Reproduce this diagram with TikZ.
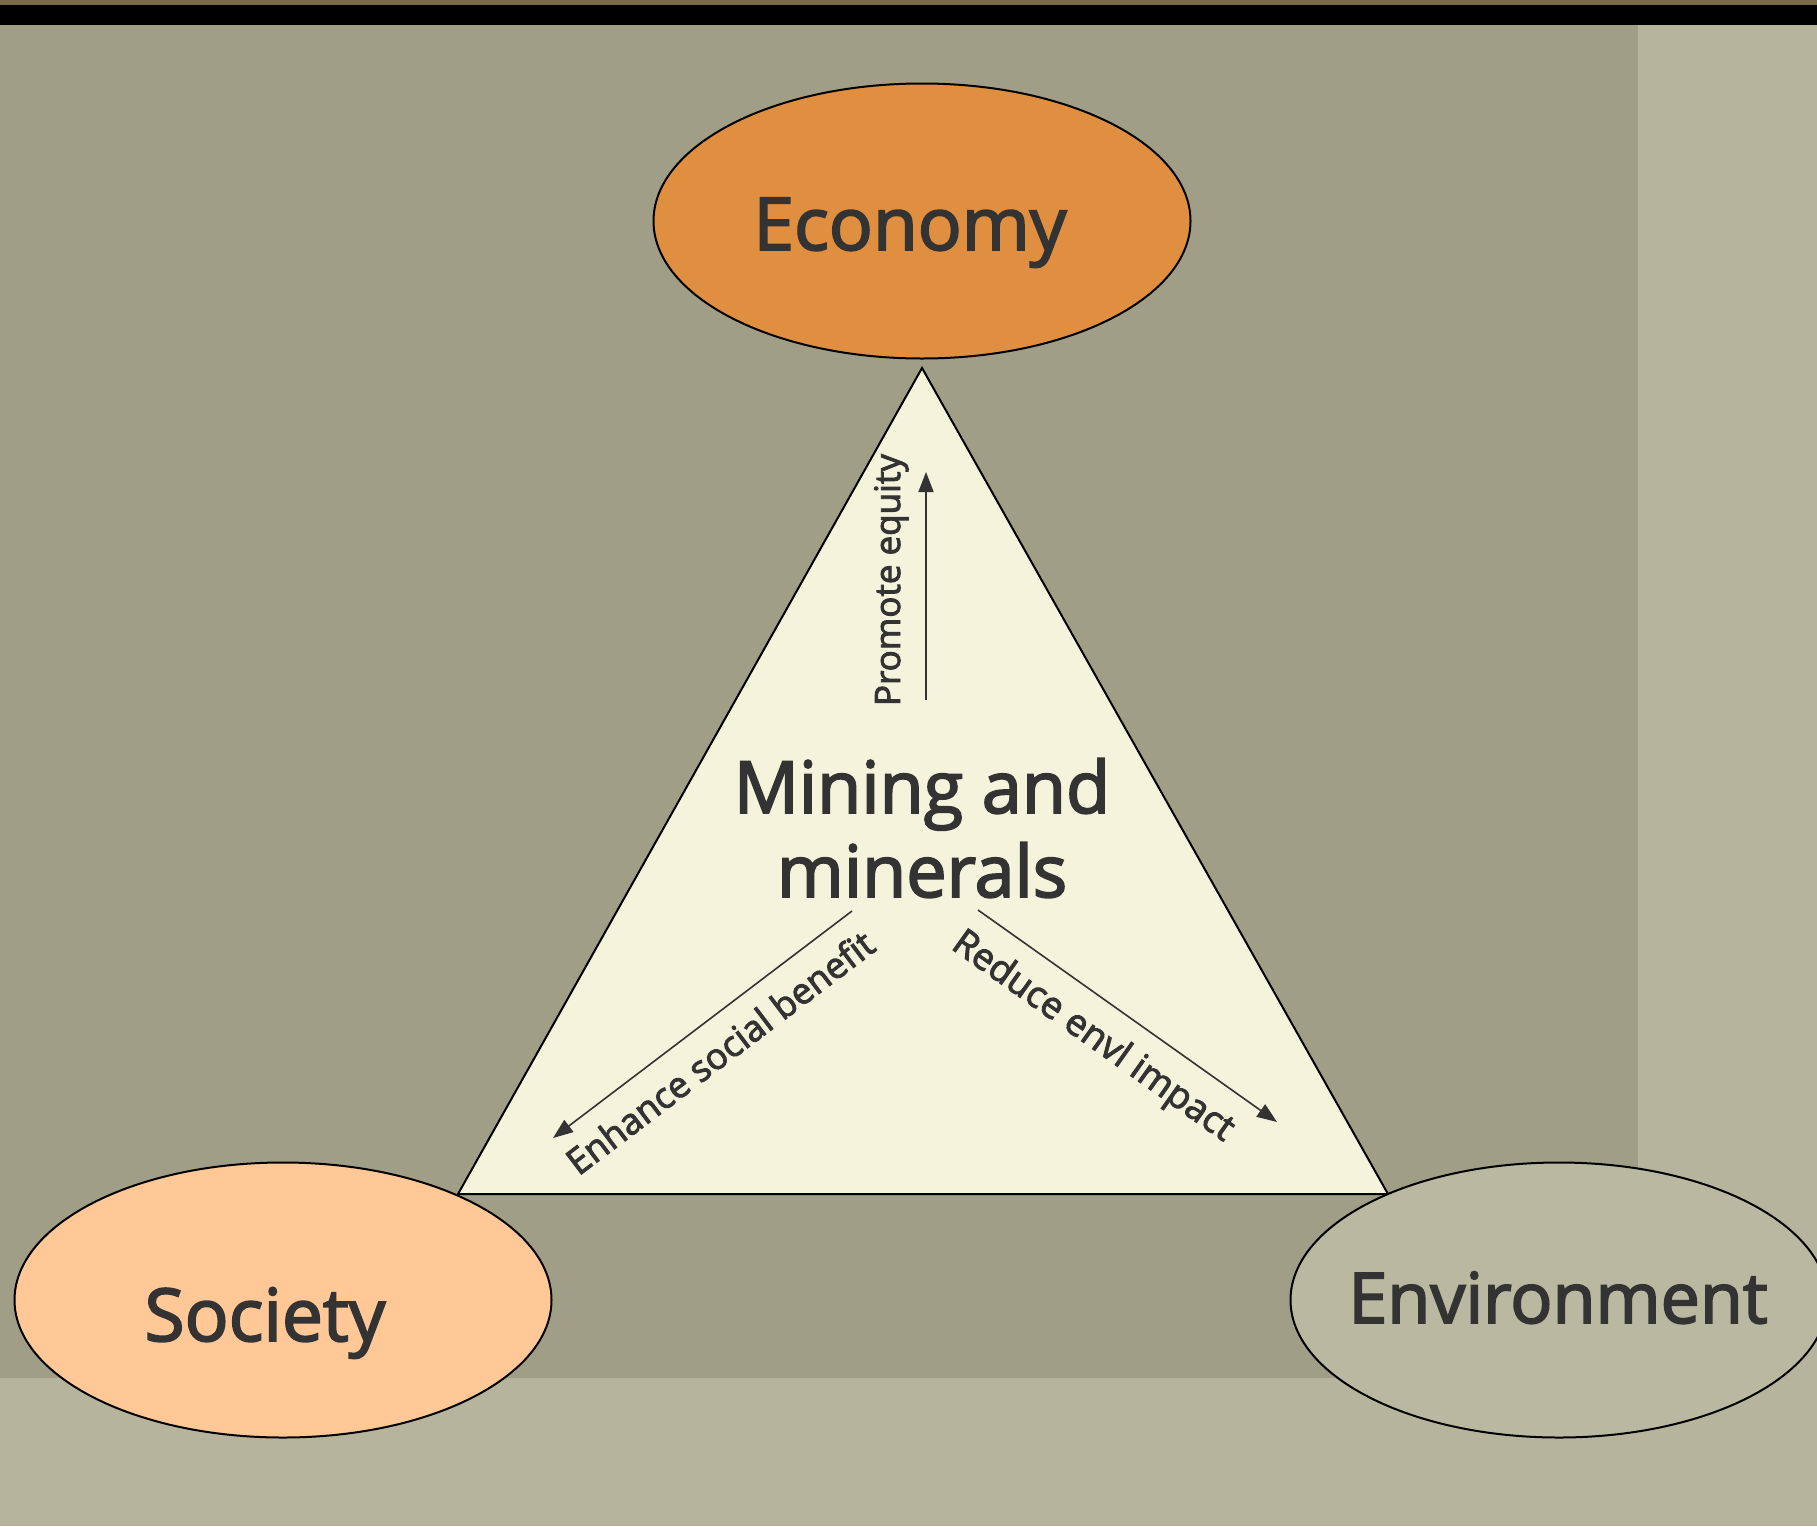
\documentclass[tikz,border=0pt]{standalone}
\usepackage{fontspec}
\setmainfont{Open Sans}
\newfontfamily\semifont{Open Sans}[FakeBold=2.6]
\usetikzlibrary{arrows.meta,shapes.geometric}
\definecolor{bgdark}{HTML}{A09E87}
\definecolor{bglight}{HTML}{B6B49C}
\definecolor{econ}{HTML}{E08F40}
\definecolor{soc}{HTML}{FFC896}
\definecolor{env}{HTML}{B9B8A0}
\definecolor{tri}{HTML}{F4F3DC}
\definecolor{ink}{HTML}{333333}
\definecolor{topbrown}{HTML}{7A6A48}
\begin{document}
\begin{tikzpicture}[x=1pt,y=-1pt,
  bubble/.style={ellipse, draw=black, line width=2pt, minimum width=537pt, minimum height=275pt, inner sep=0pt},
  bigtext/.style={text=ink, font=\semifont\fontsize{72}{84}\selectfont, inner sep=0pt, anchor=base},
  smalltext/.style={text=ink, font=\semifont\fontsize{36}{42}\selectfont, inner sep=0pt, anchor=base},
  flow/.style={draw=ink, line width=1.6pt, -{Triangle[length=20pt,width=15pt]}}]
\useasboundingbox (0,0) rectangle (1817,1526);
\clip (0,0) rectangle (1817,1526);
% background
\fill[bglight] (0,0) rectangle (1817,1526);
\fill[bgdark] (0,25) rectangle (1638,1378);
\fill[topbrown] (0,0) rectangle (1817,5);
\fill[black] (0,5) rectangle (1817,25);
% central triangle
\coordinate (apex) at (922,368);
\coordinate (baseL) at (458,1194);
\coordinate (baseR) at (1388,1194);
\filldraw[fill=tri, draw=black, line width=2pt, line join=miter] (apex) -- (baseL) -- (baseR) -- cycle;
% ellipses
\node[bubble, fill=econ] (economy) at (922,221) {};
\node[bubble, fill=soc] (society) at (283,1300) {};
\node[bubble, fill=env] (environment) at (1559,1300) {};
\node[bigtext, font=\semifont\fontsize{73}{84}\selectfont] (economyText) at (910,250) {Economy};
\node[bigtext, font=\semifont\fontsize{73}{84}\selectfont] (societyText) at (265,1341) {Society};
\node[bigtext, font=\semifont\fontsize{70}{84}\selectfont] (environmentText) at (1558,1323) {Environment};
% centre text
\node[text=ink, font=\semifont\fontsize{72}{84}\selectfont, inner sep=0pt, align=center] (mining) at (922,828) {Mining and\\minerals};
% arrows
\coordinate (pe0) at (926,700);
\coordinate (pe1) at (926,472);
\coordinate (es0) at (852,911);
\coordinate (es1) at (553,1138);
\coordinate (re0) at (978,910);
\coordinate (re1) at (1277,1122);
\draw[flow] (pe0) -- (pe1);
\draw[flow] (es0) -- (es1);
\draw[flow] (re0) -- (re1);
\node[smalltext, font=\semifont\fontsize{35}{42}\selectfont, rotate=90] (promote) at (900,580) {Promote equity};
\node[smalltext, rotate=37.2] (enhance) at (728,1063) {Enhance social benefit};
\node[smalltext, font=\semifont\fontsize{37}{42}\selectfont, rotate=-35.3] (reduce) at (1087,1045) {Reduce envl impact};
\end{tikzpicture}
\end{document}
